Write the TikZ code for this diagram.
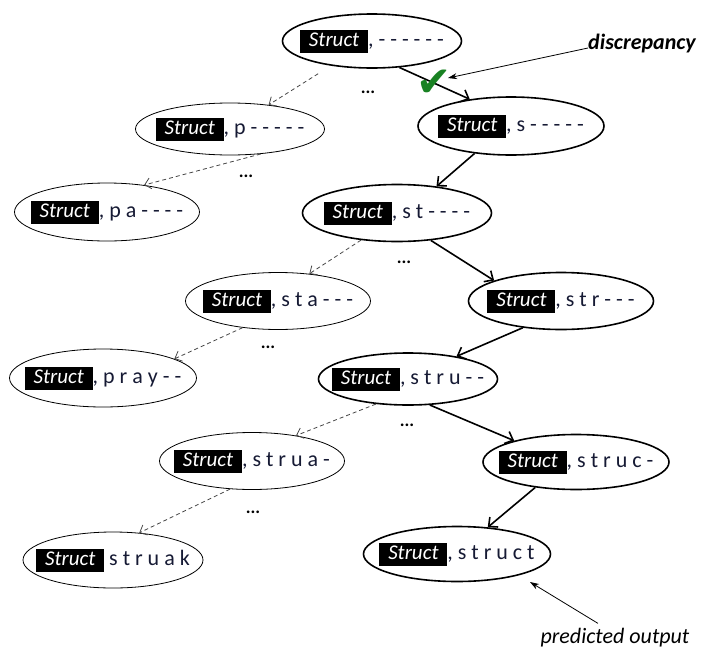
\documentclass[tikz,border=0pt]{standalone}
\usepackage{fontspec}
\setmainfont{Carlito}
\newfontfamily\symfont{DejaVu Sans}
\usetikzlibrary{shapes.geometric,arrows.meta}

\definecolor{inktext}{RGB}{22,26,52}
\definecolor{checkgreen}{RGB}{25,130,35}
\definecolor{sidegray}{RGB}{70,70,70}

% black word image with the handwritten query word
\newcommand{\wordimg}{{\setlength{\fboxsep}{0pt}\colorbox{black}{\makebox[68pt]{\rule[-6pt]{0pt}{23pt}\textcolor{white}{\fontsize{21}{21}\selectfont\itshape Struct}}}}}

\tikzset{
  mainstate/.style={ellipse, draw=black, line width=1.6pt, minimum width=#1, minimum height=56pt, inner sep=0pt},
  sidestate/.style={ellipse, draw=black, line width=0.8pt, minimum width=#1, minimum height=56pt, inner sep=0pt},
  every label/.style={font=\fontsize{22}{26}\selectfont, text=inktext, inner sep=0pt},
  mainarrow/.style={line width=1.6pt, -{Straight Barb[length=7pt,width=13pt]}},
  sidearrow/.style={draw=sidegray, line width=0.8pt, dash pattern=on 4pt off 3pt, -{Straight Barb[length=6pt,width=11pt]}},
  notearrow/.style={line width=0.8pt, -{Stealth[length=9pt,width=6pt]}},
  ellipsis/.style={font=\fontsize{18}{18}\selectfont\bfseries, inner sep=0pt},
  note/.style={font=\fontsize{22}{26}\selectfont, text=black, inner sep=0pt},
}

\begin{document}
\begin{tikzpicture}[x=1pt, y=-1pt]
\useasboundingbox (0,0) rectangle (704,656);

% search tree states
\node[mainstate=179pt, minimum height=54pt, label={center:{\wordimg, - - - - - -}}] (root) at (372,41) {};
\node[sidestate=189pt, minimum height=52pt, label={center:{\wordimg, p - - - - -}}] (p) at (230,129) {};
\node[mainstate=186pt, minimum height=58pt, label={center:{\wordimg, s - - - - -}}] (s) at (511,126) {};
\node[sidestate=185pt, minimum height=58pt, label={center:{\wordimg, p a - - - -}}] (pa) at (107,212) {};
\node[mainstate=189pt, minimum height=57pt, label={center:{\wordimg, s t - - - -}}] (st) at (397,213) {};
\node[sidestate=185pt, minimum height=57pt, label={center:{\wordimg, s t a - - -}}] (sta) at (278,301) {};
\node[mainstate=185pt, minimum height=57pt, label={center:{\wordimg, s t r - - -}}] (str) at (561,301) {};
\node[sidestate=187pt, minimum height=58pt, label={center:{\wordimg, p r a y - -}}] (pray) at (103,378) {};
\node[mainstate=179pt, minimum height=52pt, label={center:{\wordimg, s t r u - -}}] (stru) at (408,379) {};
\node[sidestate=185pt, minimum height=57pt, label={center:{\wordimg, s t r u a -}}] (strua) at (252,461) {};
\node[mainstate=186pt, minimum height=55pt, label={center:{\wordimg, s t r u c -}}] (struc) at (576,462) {};
\node[mainstate=187pt, minimum height=55pt, label={center:{\wordimg, s t r u c t}}] (struct) at (457,554) {};
\node[sidestate=180pt, minimum height=56pt, label={center:{\wordimg\ s t r u a k}}] (struak) at (113,560) {};

% elided siblings
\node[ellipsis] (dots1) at (368,92) {...};
\node[ellipsis] (dots2) at (246,176) {...};
\node[ellipsis] (dots3) at (404,262) {...};
\node[ellipsis] (dots4) at (268,347) {...};
\node[ellipsis] (dots5) at (407,425) {...};
\node[ellipsis] (dots6) at (253,512) {...};

% chosen path
\draw[mainarrow] (root.-44) -- (s.147);
\draw[mainarrow] (s.217) -- (st.34);
\draw[mainarrow] (st.-39) -- (str.163);
\draw[mainarrow] (str.215) -- (stru.25);
\draw[mainarrow] (stru.-50) -- (struc.161);
\draw[mainarrow] (struc.212) -- (struct.41);

% alternative branches
\draw[sidearrow, shorten <=15pt] (root.211) -- (p.32);
\draw[sidearrow] (p.-39) -- (pa.36);
\draw[sidearrow] (st.217) -- (sta.41);
\draw[sidearrow] (sta.217) -- (pray.15);
\draw[sidearrow] (stru.218) -- (strua.30);
\draw[sidearrow] (strua.232) -- (struak.46);

% correct first step
\node[text=checkgreen, font=\symfont\fontsize{42}{42}\selectfont, inner sep=0pt] (tick) at (434,83) {✔};

% annotations
\node[note, font=\fontsize{22}{26}\selectfont\bfseries\itshape] (disc) at (642,44) {discrepancy};
\coordinate (disctip) at (448,78);
\draw[notearrow] ([yshift=-4pt]disc.west) -- (disctip);

\node[note, font=\fontsize{22}{26}\selectfont\itshape] (pred) at (615,638) {predicted output};
\coordinate (predtip) at (530,582);
\draw[notearrow] ([xshift=-17pt,yshift=5pt]pred.north) -- (predtip);
\end{tikzpicture}
\end{document}
